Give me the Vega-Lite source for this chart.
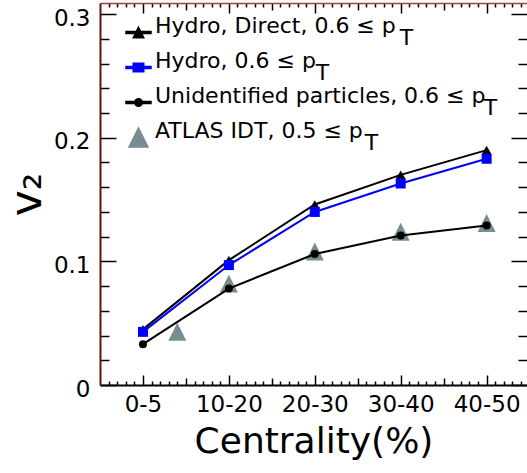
{
  "$schema": "https://vega.github.io/schema/vega-lite/v6.json",
  "width": 427,
  "height": 382,
  "autosize": {"type": "none"},
  "padding": {"left": 100, "top": 3, "right": 0, "bottom": 88},
  "background": "white",
  "config": {
    "view": {"stroke": null},
    "font": "DejaVu Sans",
    "style": {"guide-label": {"lineHeight": 12}},
    "axis": {"grid": false, "labelFont": "DejaVu Sans", "titleFont": "DejaVu Sans", "labelColor": "black", "titleColor": "black", "titleFontWeight": "normal", "tickColor": "black", "tickWidth": 1.5, "labelOverlap": false, "labelFlush": false}
  },
  "data": {
    "values": [
      {"s": "atlas", "x": 0.4, "v": 0.043},
      {"s": "atlas", "x": 1, "v": 0.082},
      {"s": "atlas", "x": 2, "v": 0.108},
      {"s": "atlas", "x": 3, "v": 0.124},
      {"s": "atlas", "x": 4, "v": 0.131},
      {"s": "direct", "x": 0, "v": 0.045},
      {"s": "direct", "x": 1, "v": 0.101},
      {"s": "direct", "x": 2, "v": 0.146},
      {"s": "direct", "x": 3, "v": 0.170},
      {"s": "direct", "x": 4, "v": 0.190},
      {"s": "hydro", "x": 0, "v": 0.043},
      {"s": "hydro", "x": 1, "v": 0.097},
      {"s": "hydro", "x": 2, "v": 0.140},
      {"s": "hydro", "x": 3, "v": 0.163},
      {"s": "hydro", "x": 4, "v": 0.183},
      {"s": "unid", "x": 0, "v": 0.033},
      {"s": "unid", "x": 1, "v": 0.078},
      {"s": "unid", "x": 2, "v": 0.106},
      {"s": "unid", "x": 3, "v": 0.121},
      {"s": "unid", "x": 4, "v": 0.129}
    ]
  },
  "resolve": {"axis": {"x": "independent", "y": "independent"}},
  "layer": [
    {
      "transform": [{"filter": "datum.s === 'atlas'"}],
      "mark": {"type": "point", "filled": true, "opacity": 1, "size": 560},
      "encoding": {
        "x": {"field": "x", "type": "quantitative", "scale": {"domain": [-0.5, 4.47], "nice": false, "zero": false},
          "axis": {"orient": "top", "title": null, "labels": false, "domainColor": "#b03a3a", "domainWidth": 1.5,
            "values": [-0.4,-0.3,-0.2,-0.1,0,0.1,0.2,0.3,0.4,0.5,0.6,0.7,0.8,0.9,1,1.1,1.2,1.3,1.4,1.5,1.6,1.7,1.8,1.9,2,2.1,2.2,2.3,2.4,2.5,2.6,2.7,2.8,2.9,3,3.1,3.2,3.3,3.4,3.5,3.6,3.7,3.8,3.9,4,4.1,4.2,4.3,4.4],
            "tickSize": {"condition": [{"test": "abs(datum.value - round(datum.value)) < 0.01", "value": -10}, {"test": "abs(datum.value*2 - round(datum.value*2)) < 0.01", "value": -7}], "value": -4}}},
        "y": {"field": "v", "type": "quantitative", "scale": {"domain": [0, 0.309], "nice": false},
          "axis": {"orient": "right", "title": null, "labels": false, "domain": false,
            "values": [0,0.02,0.04,0.06,0.08,0.1,0.12,0.14,0.16,0.18,0.2,0.22,0.24,0.26,0.28,0.3],
            "tickSize": {"condition": {"test": "abs(datum.value*10 - round(datum.value*10)) < 0.01", "value": -16}, "value": -9}}},
        "shape": {"field": "s", "type": "nominal",
          "scale": {"domain": ["direct", "hydro", "unid", "atlas"], "range": ["M-1,-0.08H1V0.08H-1ZM0,-0.42L0.42,0.42H-0.42Z", "M-1,-0.08H1V0.08H-1ZM-0.42,-0.34H0.42V0.34H-0.42Z", "M-1,-0.08H1V0.08H-1ZM0.3,0A0.3,0.3 0 1 1 -0.3,0A0.3,0.3 0 1 1 0.3,0Z", "M0,-0.76L0.76,0.76H-0.76Z"]}},
        "color": {"field": "s", "type": "nominal",
          "scale": {"domain": ["direct", "hydro", "unid", "atlas"], "range": ["black", "#0000ff", "black", "#788c91"]},
          "legend": {
            "orient": "none", "legendX": 25, "legendY": 16, "title": null, "padding": 0, "rowPadding": 0,
            "labelFont": "DejaVu Sans", "labelFontSize": 22, "labelColor": "black", "labelLimit": 600, "labelOffset": 3, "symbolSize": 625,
            "labelBaseline": "alphabetic",
            "labelExpr": "datum.label === 'direct' ? ['Hydro, Direct, 0.6 ≤ p', '\u200b' + pad('', 35, '\u00a0') + 'T'] : datum.label === 'hydro' ? ['Hydro, 0.6 ≤ p', '\u200b' + pad('', 23, '\u00a0') + 'T'] : datum.label === 'unid' ? ['Unidentified particles, 0.6 ≤ p', '\u200b' + pad('', 47, '\u00a0') + 'T'] : ['ATLAS IDT, 0.5 ≤ p', '\u200b' + pad('', 30, '\u00a0') + 'T']",
            "encode": {
              "symbols": {
                "fill": {"signal": "scale('color', datum.value)"},
                "stroke": {"value": "transparent"},
                "size": {"value": 625},
                "opacity": {"value": 1},
                "fillOpacity": {"value": 1}
              },
              "labels": {"lineHeight": {"value": 12}, "dy": {"value": 2}}
            }
          }}
      }
    },
    {
      "transform": [{"filter": "datum.s !== 'atlas'"}],
      "mark": {"type": "line", "strokeWidth": 2},
      "encoding": {
        "x": {"field": "x", "type": "quantitative",
          "axis": {"orient": "bottom", "title": "Centrality(%)", "titleFontSize": 36, "titlePadding": 2, "labelFontSize": 23, "labelPadding": 18,
            "domainColor": "black", "domainWidth": 2,
            "values": [-0.4,-0.3,-0.2,-0.1,0,0.1,0.2,0.3,0.4,0.5,0.6,0.7,0.8,0.9,1,1.1,1.2,1.3,1.4,1.5,1.6,1.7,1.8,1.9,2,2.1,2.2,2.3,2.4,2.5,2.6,2.7,2.8,2.9,3,3.1,3.2,3.3,3.4,3.5,3.6,3.7,3.8,3.9,4,4.1,4.2,4.3,4.4],
            "labelExpr": "abs(datum.value - round(datum.value)) < 0.01 ? ['0-5','10-20','20-30','30-40','40-50'][round(datum.value)] : ''",
            "tickSize": {"condition": [{"test": "abs(datum.value - round(datum.value)) < 0.01", "value": -10}, {"test": "abs(datum.value*2 - round(datum.value*2)) < 0.01", "value": -7}], "value": -4}}},
        "y": {"field": "v", "type": "quantitative",
          "axis": {"orient": "left", "title": "v₂", "titleFontSize": 44, "titlePadding": 4, "labelFontSize": 23, "labelPadding": 26, "labelOffset": 4,
            "domainColor": "#5a1616", "domainWidth": 2,
            "values": [0,0.02,0.04,0.06,0.08,0.1,0.12,0.14,0.16,0.18,0.2,0.22,0.24,0.26,0.28,0.3],
            "labelExpr": "abs(datum.value*10 - round(datum.value*10)) < 0.01 ? format(datum.value, '~g') : ''",
            "tickSize": {"condition": {"test": "abs(datum.value*10 - round(datum.value*10)) < 0.01", "value": -16}, "value": -9}}},
        "color": {"field": "s", "type": "nominal"}
      }
    },
    {
      "transform": [{"filter": "datum.s === 'direct'"}],
      "mark": {"type": "point", "filled": true, "opacity": 1, "shape": "triangle-up", "size": 100},
      "encoding": {
        "x": {"field": "x", "type": "quantitative", "axis": null},
        "y": {"field": "v", "type": "quantitative", "axis": null},
        "color": {"field": "s", "type": "nominal"}
      }
    },
    {
      "transform": [{"filter": "datum.s === 'hydro'"}],
      "mark": {"type": "point", "filled": true, "opacity": 1, "shape": "square", "size": 100},
      "encoding": {
        "x": {"field": "x", "type": "quantitative", "axis": null},
        "y": {"field": "v", "type": "quantitative", "axis": null},
        "color": {"field": "s", "type": "nominal"}
      }
    },
    {
      "transform": [{"filter": "datum.s === 'unid'"}],
      "mark": {"type": "point", "filled": true, "opacity": 1, "shape": "circle", "size": 64},
      "encoding": {
        "x": {"field": "x", "type": "quantitative", "axis": null},
        "y": {"field": "v", "type": "quantitative", "axis": null},
        "color": {"field": "s", "type": "nominal"}
      }
    }
  ]
}
